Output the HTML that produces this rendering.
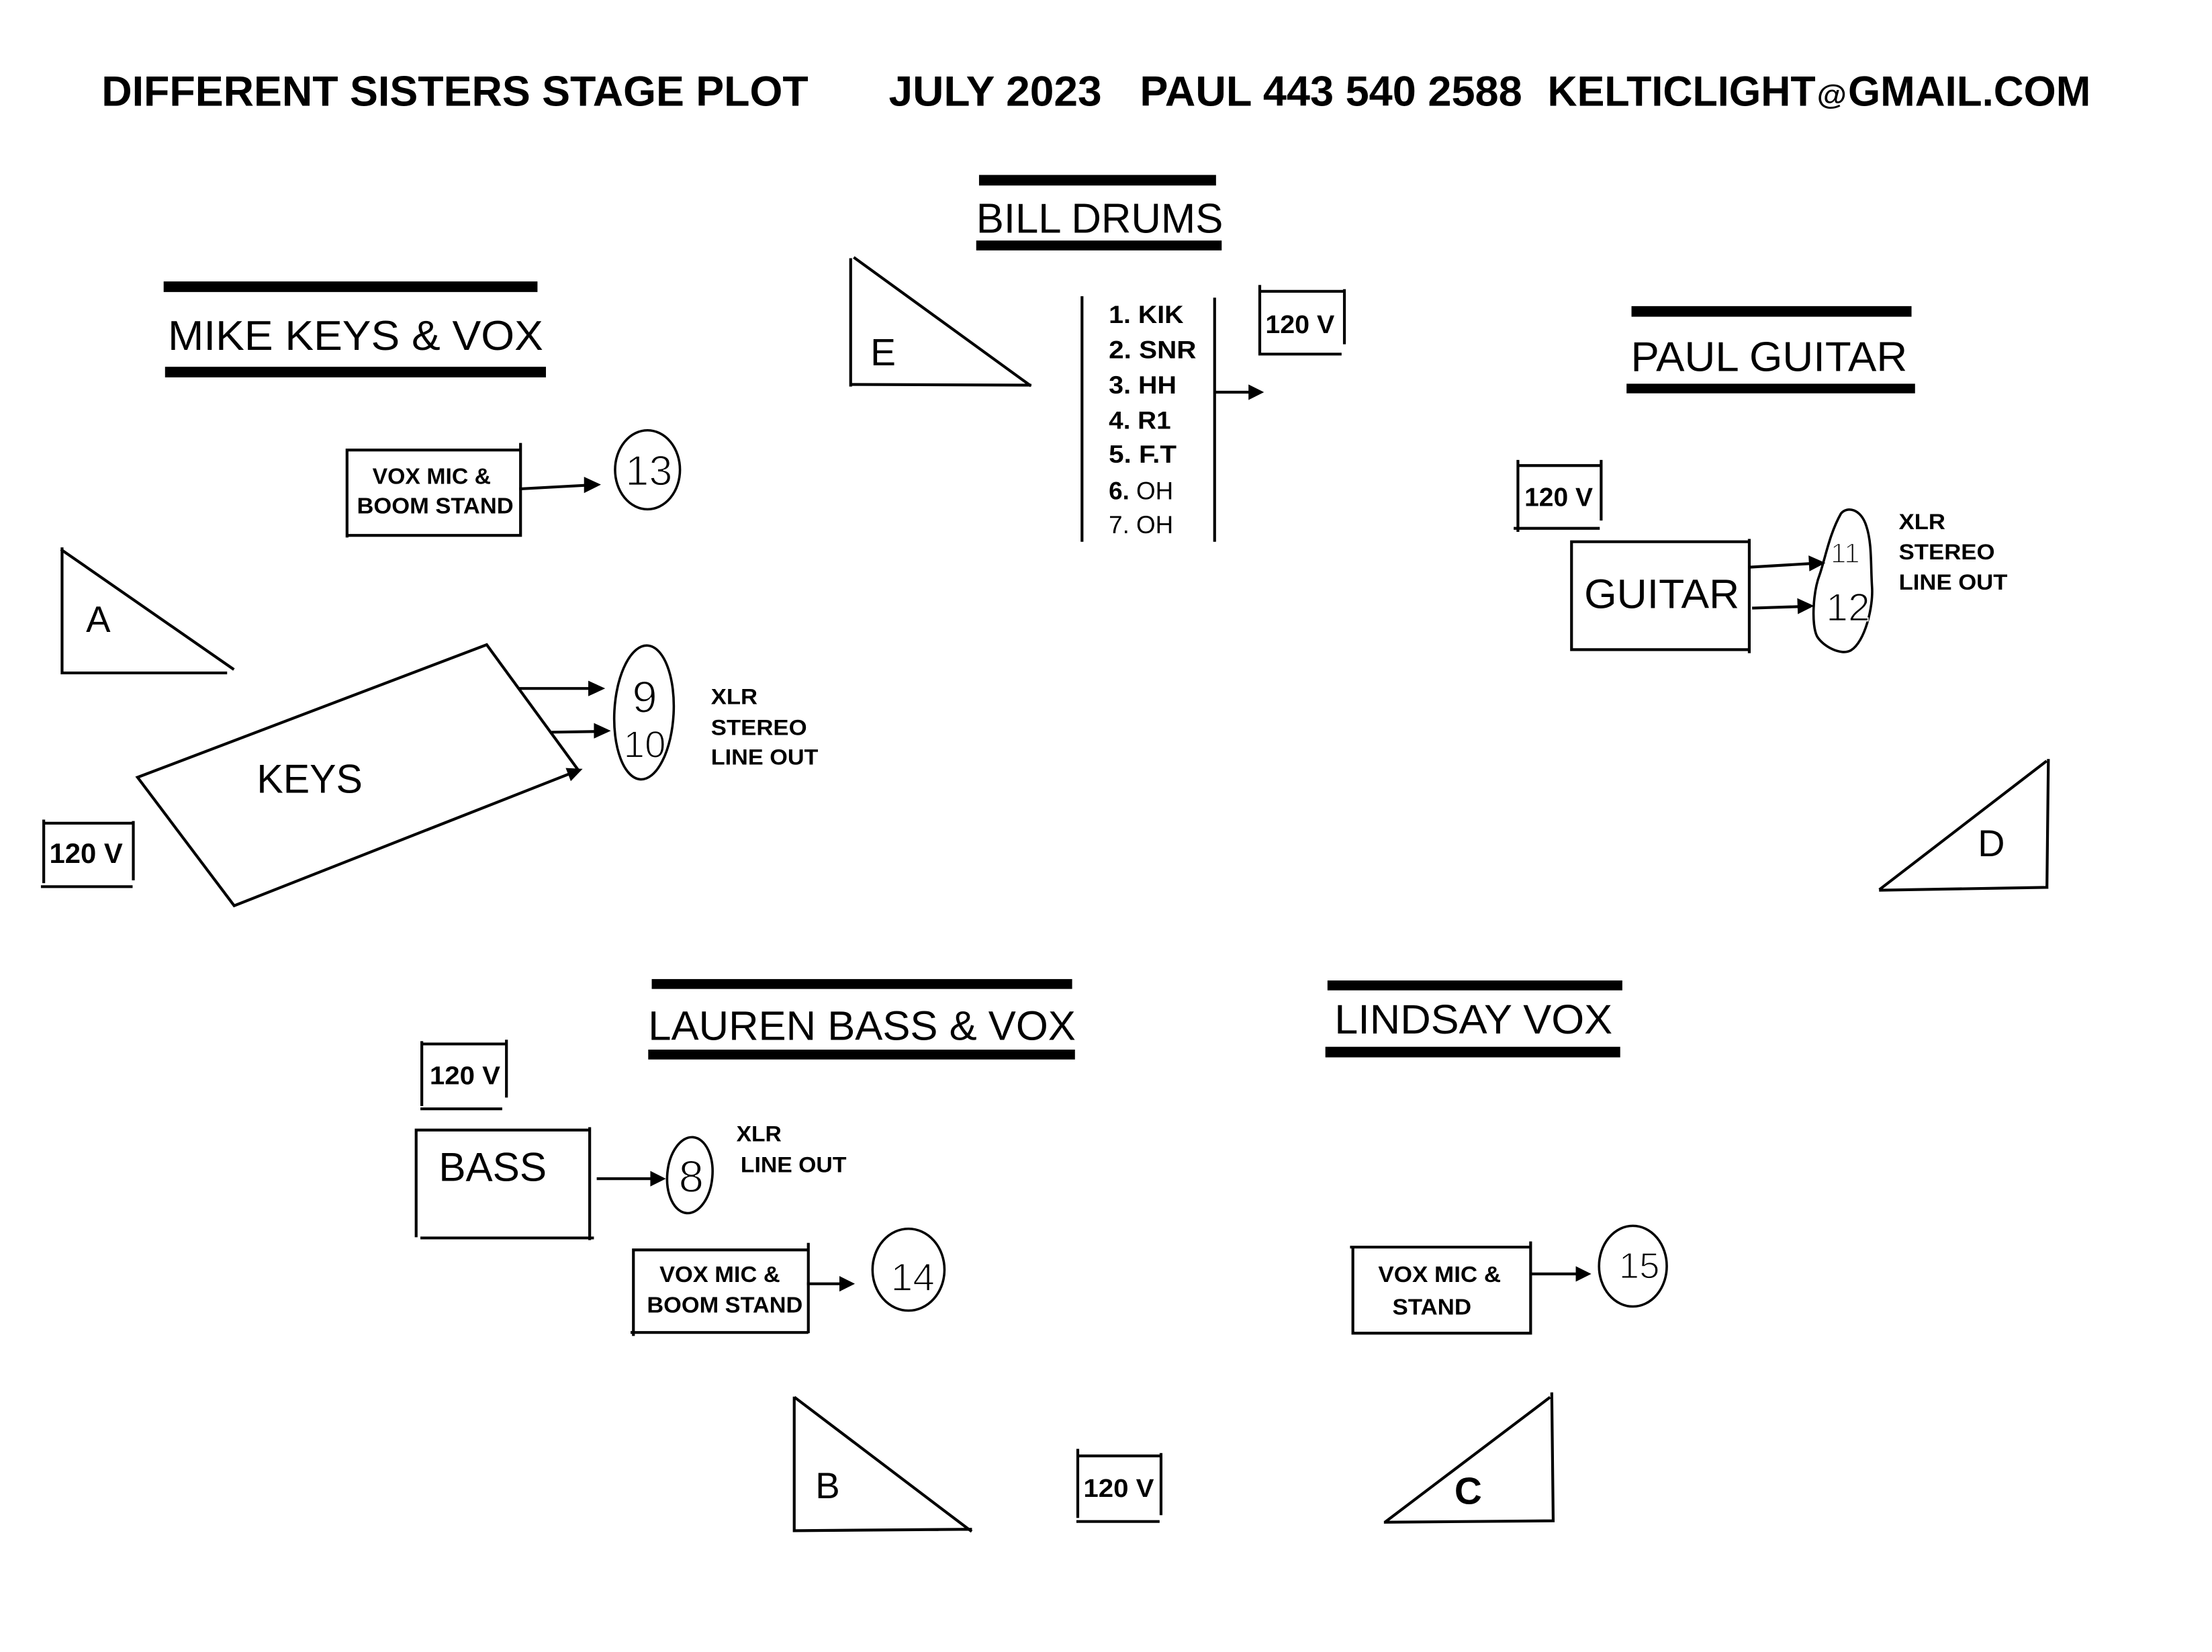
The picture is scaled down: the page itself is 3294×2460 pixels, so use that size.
<!DOCTYPE html>
<html><head><meta charset="utf-8">
<style>
html,body{margin:0;padding:0;background:#fff;}
svg{display:block;}
text{font-family:"Liberation Sans",Arial,sans-serif;fill:#000;}
.b{font-weight:bold;}
.h{font-family:"Liberation Sans Narrow","Liberation Sans",sans-serif;font-weight:normal;stroke:#fff;stroke-width:0.8;}
.s{stroke:#000;stroke-width:2;fill:none;stroke-linecap:square;}
.e{stroke:#000;stroke-width:1.7;fill:none;}
</style></head><body>
<svg width="3294" height="2460" viewBox="0 0 1568 1171" preserveAspectRatio="none" xmlns="http://www.w3.org/2000/svg">
<rect x="0" y="0" width="1568" height="1171" fill="#fff"/>

<!-- Header -->
<text x="72" y="75" class="b" font-size="30" textLength="501" lengthAdjust="spacingAndGlyphs">DIFFERENT SISTERS STAGE PLOT</text>
<text x="630" y="75" class="b" font-size="30" textLength="151" lengthAdjust="spacingAndGlyphs">JULY 2023</text>
<text x="808" y="75" class="b" font-size="30" textLength="271" lengthAdjust="spacingAndGlyphs">PAUL 443 540 2588</text>
<text x="1097" y="75" class="b" font-size="30" textLength="190" lengthAdjust="spacingAndGlyphs">KELTICLIGHT</text>
<text x="1288" y="74" class="b" font-size="20" textLength="21" lengthAdjust="spacingAndGlyphs">@</text>
<text x="1310" y="75" class="b" font-size="30" textLength="172" lengthAdjust="spacingAndGlyphs">GMAIL.COM</text>

<!-- BILL DRUMS -->
<rect x="694" y="124" width="168" height="7.5" fill="#000"/>
<text x="692" y="165" font-size="29.5" textLength="175" lengthAdjust="spacingAndGlyphs">BILL DRUMS</text>
<rect x="692" y="170.5" width="174" height="7" fill="#000"/>

<!-- Triangle E -->
<path class="s" d="M603,184 L603,273 M604,272.5 L730,273 M606,183 L730,273"/>
<text x="617" y="259" font-size="27">E</text>

<!-- Drum list -->
<path class="s" d="M767,211 L767,383 M861,212 L861,383"/>
<text x="786" y="229" class="b" font-size="17.5" textLength="53" lengthAdjust="spacingAndGlyphs">1. KIK</text>
<text x="786" y="254" class="b" font-size="17.5" textLength="62" lengthAdjust="spacingAndGlyphs">2. SNR</text>
<text x="786" y="279" class="b" font-size="17.5" textLength="48" lengthAdjust="spacingAndGlyphs">3. HH</text>
<text x="786" y="304" class="b" font-size="17.5" textLength="44" lengthAdjust="spacingAndGlyphs">4. R1</text>
<text x="786" y="328" class="b" font-size="17.5" textLength="48" lengthAdjust="spacingAndGlyphs">5. F.T</text>
<text x="786" y="354" font-size="17.5"><tspan class="b">6.</tspan> OH</text>
<text x="786" y="378" font-size="17.5">7. OH</text>
<path class="s" d="M862,278 L886,278"/>
<polygon points="896,278 885,272.5 885,283.5" fill="#000"/>

<!-- 120V drums -->
<path class="s" d="M893,203 L893,249 M893,206.5 L953,206.5 M953,206 L953,243 M893,251 L950,251"/>
<text x="897" y="236" class="b" font-size="18" textLength="49" lengthAdjust="spacingAndGlyphs">120 V</text>

<!-- MIKE KEYS & VOX -->
<rect x="116" y="199.5" width="265" height="7.5" fill="#000"/>
<text x="119" y="248" font-size="29.5" textLength="266" lengthAdjust="spacingAndGlyphs">MIKE KEYS  &amp; VOX</text>
<rect x="117" y="260" width="270" height="7.5" fill="#000"/>

<!-- VOX MIC 13 -->
<path class="s" d="M246,319 L246,380 M246,319 L369,319 M369,315 L369,378 M246,379.5 L369,379.5"/>
<text x="264" y="343" class="b" font-size="16" textLength="84" lengthAdjust="spacingAndGlyphs">VOX MIC &amp;</text>
<text x="253" y="364" class="b" font-size="16" textLength="111" lengthAdjust="spacingAndGlyphs">BOOM STAND</text>
<path class="s" d="M369,346.5 L415,344"/>
<polygon points="426,343.5 414,338 414,349.5" fill="#000"/>
<ellipse class="e" cx="459" cy="333" rx="23" ry="28"/>
<text x="460" y="344" class="h" font-size="30" text-anchor="middle">13</text>

<!-- Triangle A -->
<path class="s" d="M44,389 L44,477 L160,477 M44,390 L165,474"/>
<text x="61" y="448" font-size="26">A</text>

<!-- KEYS -->
<polygon class="s" points="97.5,551 345,457 410,546 166,642" style="stroke-linejoin:miter"/>
<polygon points="413,545 401,544.4 404.6,553.7" fill="#000"/>
<text x="182" y="562" font-size="28.5" textLength="75" lengthAdjust="spacingAndGlyphs">KEYS</text>
<path class="s" d="M369,488 L418,488"/>
<polygon points="429,488 417,482.5 417,493.5" fill="#000"/>
<path class="s" d="M392,519 L422,518.5"/>
<polygon points="433,518 421,512.5 421,523.5" fill="#000"/>
<ellipse class="e" cx="456.5" cy="505" rx="21" ry="47.5" transform="rotate(3 456.5 505)"/>
<text x="457" y="505" class="h" font-size="32" text-anchor="middle">9</text>
<text x="457" y="537" class="h" font-size="27" text-anchor="middle">10</text>
<text x="504" y="499" class="b" font-size="15.5" textLength="33" lengthAdjust="spacingAndGlyphs">XLR</text>
<text x="504" y="521" class="b" font-size="15.5" textLength="68" lengthAdjust="spacingAndGlyphs">STEREO</text>
<text x="504" y="542" class="b" font-size="15.5" textLength="76" lengthAdjust="spacingAndGlyphs">LINE OUT</text>

<!-- 120V left -->
<path class="s" d="M31,582 L31,625 M31,583.5 L94.5,583.5 M94.5,583 L94.5,623 M30,628.5 L93,628.5"/>
<text x="35" y="611.6" class="b" font-size="20" textLength="52" lengthAdjust="spacingAndGlyphs">120 V</text>

<!-- PAUL GUITAR -->
<rect x="1156.5" y="217" width="198.5" height="7.5" fill="#000"/>
<text x="1156" y="263" font-size="29.5" textLength="196" lengthAdjust="spacingAndGlyphs">PAUL GUITAR</text>
<rect x="1153" y="272" width="204.5" height="6.8" fill="#000"/>

<path class="s" d="M1076,327 L1076,376 M1076,330 L1135,330 M1135,327 L1135,368 M1074,374.5 L1133,374.5"/>
<text x="1080.6" y="358.7" class="b" font-size="18.5" textLength="48.5" lengthAdjust="spacingAndGlyphs">120 V</text>

<path class="s" d="M1114,385 L1114,460 M1114,384 L1240,384 M1240,383 L1240,462 M1114,460.5 L1240,460.5"/>
<text x="1123" y="431" font-size="29" textLength="110" lengthAdjust="spacingAndGlyphs">GUITAR</text>
<path class="s" d="M1241,402 L1283,399.5"/>
<polygon points="1294,399 1282,393.7 1282.6,405" fill="#000"/>
<path class="s" d="M1243,431 L1275,430"/>
<polygon points="1286,429.5 1274,424 1274.4,435.3" fill="#000"/>
<path class="e" d="M1305,364 C1309,359 1319,360 1323,373 C1327,385 1326,400 1327,416 C1328,430 1322,455 1312,461 C1305,465 1292,458 1288,451 C1284,443 1285,420 1290,407 C1294,395 1297,378 1305,364 Z"/>
<text x="1308" y="399" class="h" font-size="20" text-anchor="middle">11</text>
<text x="1310" y="440" class="h" font-size="28" text-anchor="middle">12</text>
<text x="1346" y="375" class="b" font-size="15.5" textLength="33" lengthAdjust="spacingAndGlyphs">XLR</text>
<text x="1346" y="396.5" class="b" font-size="15.5" textLength="68" lengthAdjust="spacingAndGlyphs">STEREO</text>
<text x="1346" y="418" class="b" font-size="15.5" textLength="77" lengthAdjust="spacingAndGlyphs">LINE OUT</text>

<!-- Triangle D -->
<path class="s" d="M1452,539 L1451,628 M1333,631 L1451,629 M1333,630 L1450,540"/>
<text x="1402" y="607" font-size="26.5">D</text>

<!-- LAUREN BASS & VOX -->
<rect x="462" y="694" width="298" height="7" fill="#000"/>
<text x="459.5" y="737" font-size="29" textLength="303" lengthAdjust="spacingAndGlyphs">LAUREN BASS &amp; VOX</text>
<rect x="459.5" y="744" width="302.5" height="7" fill="#000"/>

<path class="s" d="M299,739 L299,783 M299,740 L359,740 M359,738 L359,777 M299,786 L355,786"/>
<text x="304.6" y="768.6" class="b" font-size="18" textLength="50" lengthAdjust="spacingAndGlyphs">120 V</text>

<path class="s" d="M295,801 L295,876 M295,801 L418,801 M418,800 L418,878 M299,877.5 L420,877.5"/>
<text x="311" y="837" font-size="28.5" textLength="76.5" lengthAdjust="spacingAndGlyphs">BASS</text>
<path class="s" d="M424,835.5 L462,835.5"/>
<polygon points="472,835.5 461,830 461,841" fill="#000"/>
<ellipse class="e" cx="489" cy="833" rx="16" ry="27" transform="rotate(5 489 833)"/>
<text x="490" y="845" class="h" font-size="32" text-anchor="middle">8</text>
<text x="522" y="809" class="b" font-size="15.5" textLength="32" lengthAdjust="spacingAndGlyphs">XLR</text>
<text x="525" y="831" class="b" font-size="15.5" textLength="75" lengthAdjust="spacingAndGlyphs">LINE OUT</text>

<path class="s" d="M449,887 L449,946 M449,886 L573,886 M573,882 L573,944 M448,944.5 L572,944.5"/>
<text x="467.5" y="908.6" class="b" font-size="16" textLength="85.5" lengthAdjust="spacingAndGlyphs">VOX MIC &amp;</text>
<text x="458.6" y="930.4" class="b" font-size="16" textLength="110.4" lengthAdjust="spacingAndGlyphs">BOOM STAND</text>
<path class="s" d="M573,910 L596,910"/>
<polygon points="606,910 595,904.5 595,915.5" fill="#000"/>
<ellipse class="e" cx="644" cy="900" rx="25.5" ry="29"/>
<text x="647" y="915" class="h" font-size="28" text-anchor="middle">14</text>

<!-- Triangle B -->
<path class="s" d="M563,991 L563,1085 L688,1084 M564,991 L688,1085"/>
<text x="578" y="1062" font-size="26">B</text>

<path class="s" d="M764,1028 L764,1075 M764,1032 L823,1032 M823,1031 L823,1073 M764,1078.5 L821,1078.5"/>
<text x="768" y="1061" class="b" font-size="18" textLength="50" lengthAdjust="spacingAndGlyphs">120 V</text>

<!-- LINDSAY VOX -->
<rect x="941" y="695" width="209" height="7" fill="#000"/>
<text x="946" y="732.5" font-size="29" textLength="197" lengthAdjust="spacingAndGlyphs">LINDSAY VOX</text>
<rect x="939.5" y="742" width="209" height="7.5" fill="#000"/>

<path class="s" d="M959,886 L959,945 M958,884 L1085,884 M1085,881 L1085,945 M960,945 L1085,945"/>
<text x="977" y="908.6" class="b" font-size="16" textLength="87" lengthAdjust="spacingAndGlyphs">VOX MIC &amp;</text>
<text x="987" y="931.7" class="b" font-size="16" textLength="56" lengthAdjust="spacingAndGlyphs">STAND</text>
<path class="s" d="M1086,903 L1117,903"/>
<polygon points="1128,903 1117,897.5 1117,908.5" fill="#000"/>
<ellipse class="e" cx="1157.5" cy="897.5" rx="24" ry="28.6"/>
<text x="1162" y="906" class="h" font-size="26" text-anchor="middle">15</text>

<!-- Triangle C -->
<path class="s" d="M1100,988 L1101,1078 M982,1079 L1101,1078 M983,1078 L1098,991"/>
<text x="1031" y="1066" class="b" font-size="27">C</text>
</svg>
</body></html>
